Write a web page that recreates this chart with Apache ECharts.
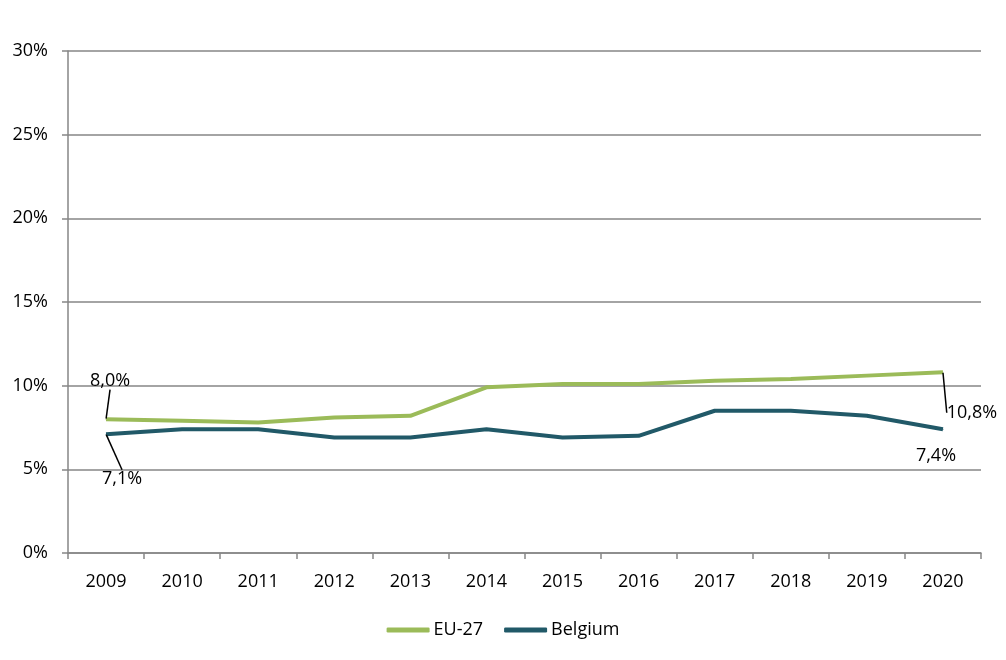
<!DOCTYPE html>
<html><head><meta charset="utf-8">
<script src="https://cdn.jsdelivr.net/npm/echarts@6/dist/echarts.min.js"></script>
<style>html,body{margin:0;padding:0;background:#fff}#c{width:1006px;height:660px}</style>
</head><body><div id="c"></div>
<script>
const years = ['2009','2010','2011','2012','2013','2014','2015','2016','2017','2018','2019','2020'];
const eu27 = [8.0, 7.9, 7.8, 8.1, 8.2, 9.9, 10.1, 10.1, 10.3, 10.4, 10.6, 10.8];
const belgium = [7.1, 7.4, 7.4, 6.9, 6.9, 7.4, 6.9, 7.0, 8.5, 8.5, 8.2, 7.4];
const yTicks = [0, 5, 10, 15, 20, 25, 30];

const fontFam = 'Open Sans, Liberation Sans, sans-serif';
const fmt = v => v.toFixed(1).replace('.', ',') + '%';
const gray = '#868686';

function withLabels(arr, specs) {
  return arr.map((v, i) => {
    const s = specs[i];
    if (!s) return v;
    return { value: v, label: { show: true, position: s.pos, distance: 0, formatter: fmt(v), color: '#000', fontSize: 18, fontFamily: fontFam }, labelLine: { show: s.line, lineStyle: { color: '#000', width: 1.5 } }, _dx: s.dx, _dy: s.dy };
  });
}

const euData = withLabels(eu27, { 0: { pos: 'top', dx: 4, dy: -29, line: true }, 11: { pos: 'bottom', dx: 29, dy: 31, line: true } });
const beData = withLabels(belgium, { 0: { pos: 'bottom', dx: 16, dy: 35, line: true }, 11: { pos: 'bottom', dx: -7, dy: 17, line: false } });

const chart = echarts.init(document.getElementById('c'));
function layoutFor(data) {
  return function (p) {
    const d = data[p.dataIndex];
    if (d && typeof d === 'object') return { dx: d._dx, dy: d._dy };
    return {};
  };
}
chart.setOption({
  animation: false,
  grid: { left: 68, right: 25, top: 51, bottom: 107 },
  legend: {
    bottom: 16, left: 'center', itemWidth: 43, itemHeight: 5, itemGap: 21,
    textStyle: { fontSize: 18, fontFamily: fontFam, color: '#000', padding: [0, 0, 0, -1] },
    data: [{ name: 'EU-27', icon: 'roundRect' }, { name: 'Belgium', icon: 'roundRect' }]
  },
  xAxis: {
    type: 'category', data: years, boundaryGap: true,
    axisLine: { lineStyle: { color: gray, width: 1.5 } },
    axisTick: { show: true, alignWithLabel: false, length: 6, lineStyle: { color: gray, width: 1.5 } },
    axisLabel: { color: '#000', fontSize: 18, fontFamily: fontFam, margin: 20 }
  },
  yAxis: {
    type: 'value', min: 0, max: 30, interval: 5,
    axisLine: { show: true, lineStyle: { color: gray, width: 1.5 } },
    axisTick: { show: true, length: 6, lineStyle: { color: gray, width: 1.5 } },
    splitLine: { lineStyle: { color: gray, width: 1.5 } },
    axisLabel: { color: '#000', fontSize: 18, fontFamily: fontFam, margin: 20, formatter: v => yTicks.includes(v) ? v + '%' : '' }
  },
  series: [
    { name: 'EU-27', type: 'line', data: euData, color: '#9BBB59', symbol: 'circle', symbolSize: 1, showSymbol: true, showAllSymbol: true, itemStyle: { color: '#9BBB59' }, lineStyle: { width: 4, color: '#9BBB59' }, labelLayout: layoutFor(euData), z: 3 },
    { name: 'Belgium', type: 'line', data: beData, color: '#215968', symbol: 'circle', symbolSize: 1, showSymbol: true, showAllSymbol: true, itemStyle: { color: '#215968' }, lineStyle: { width: 4, color: '#215968' }, labelLayout: layoutFor(beData), z: 2 }
  ]
});
</script></body></html>
